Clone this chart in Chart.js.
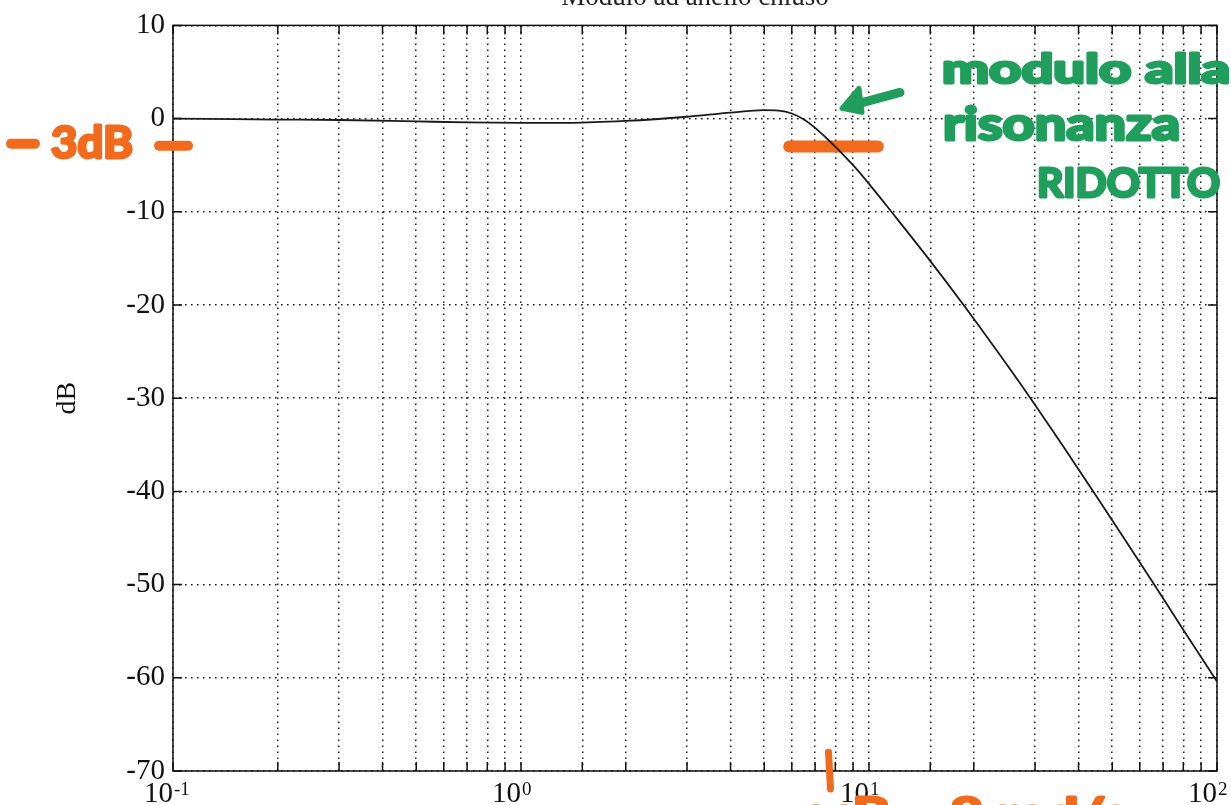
<!DOCTYPE html>
<html>
<head>
<meta charset="utf-8">
<script src="https://cdn.jsdelivr.net/npm/chart.js@4.4.0/dist/chart.umd.min.js"></script>
<style>
html, body { margin: 0; padding: 0; background: #fff; overflow: hidden; }
#wrap { position: relative; width: 1231px; height: 805px; overflow: hidden; background: #fff; }
#wrap canvas { position: absolute; left: 0; top: -20px; }
</style>
</head>
<body>
<div id="wrap"><canvas id="myChart" width="1231" height="825"></canvas></div>
<script>
// frequenze (rad/s) e modulo ad anello chiuso (dB)
const freq = [0.1, 0.2, 0.3, 0.5, 0.7, 1, 1.4, 2, 3, 4, 5, 5.5, 6, 6.5, 7, 7.5, 8, 9, 10, 11.6, 14.8, 18.7, 23.4, 29.1, 35.9, 44.1, 54, 66, 80.5, 100];
const moduloDb = [0, -0.1, -0.15, -0.3, -0.4, -0.45, -0.45, -0.25, 0.2, 0.65, 0.9, 0.85, 0.55, -0.1, -1.0, -2.0, -3.0, -5.0, -7.0, -10, -15, -20, -25, -30, -35, -40, -45, -50, -55, -60.4];

// assi
const xMin = 0.1, xMax = 100;
const yMin = -70, yMax = 10, yStep = 10;
const decadi = [0.1, 1, 10, 100];
const esponenti = ['-1', '0', '1', '2'];

// annotazioni a mano
const livelloBanda = -3;
const freqBanda = [5.9, 10.6];
const freqTaglio = 7.7;

const serif = '"Liberation Serif", "DejaVu Serif", serif';
const arancio = '#f26a1b';
const verde = '#1f9e5c';

function scritta(ctx, testo, x, base, px, larghezza, colore) {
    ctx.save();
    ctx.font = 'bold ' + px + 'px Lato, "Open Sans", sans-serif';
    const w = ctx.measureText(testo).width;
    ctx.translate(x, base);
    ctx.scale(larghezza / w, 1);
    ctx.fillStyle = colore;
    ctx.strokeStyle = colore;
    ctx.lineWidth = 3;
    ctx.lineJoin = 'round';
    ctx.textAlign = 'left';
    ctx.textBaseline = 'alphabetic';
    ctx.strokeText(testo, 0, 0);
    ctx.fillText(testo, 0, 0);
    ctx.restore();
}

function tratto(ctx, x1, y1, x2, y2, w, colore) {
    ctx.save();
    ctx.strokeStyle = colore;
    ctx.lineWidth = w;
    ctx.lineCap = 'round';
    ctx.beginPath();
    ctx.moveTo(x1, y1);
    ctx.lineTo(x2, y2);
    ctx.stroke();
    ctx.restore();
}

const cornice = {
    id: 'cornice',
    beforeDatasetsDraw(chart) {
        const { ctx, scales: { x, y } } = chart;
        const yb = y.getPixelForValue(livelloBanda);
        tratto(ctx, x.getPixelForValue(freqBanda[0]), yb, x.getPixelForValue(freqBanda[1]), yb, 12, arancio);
    },
    afterDraw(chart) {
        const { ctx, chartArea: a, scales: { x, y } } = chart;
        ctx.save();
        ctx.strokeStyle = '#111';
        ctx.lineWidth = 1.5;
        ctx.strokeRect(a.left, a.top, a.right - a.left, a.bottom - a.top);
        ctx.beginPath();
        x.ticks.forEach(t => {
            const px = x.getPixelForValue(t.value);
            ctx.moveTo(px, a.bottom); ctx.lineTo(px, a.bottom - 9);
            ctx.moveTo(px, a.top); ctx.lineTo(px, a.top + 9);
        });
        y.ticks.forEach(t => {
            const py = y.getPixelForValue(t.value);
            ctx.moveTo(a.left, py); ctx.lineTo(a.left + 9, py);
            ctx.moveTo(a.right, py); ctx.lineTo(a.right - 9, py);
        });
        ctx.stroke();

        // etichette 10^n
        ctx.fillStyle = '#111';
        ctx.textBaseline = 'alphabetic';
        decadi.forEach((v, i) => {
            const px = x.getPixelForValue(v);
            ctx.font = '29px ' + serif;
            ctx.textAlign = 'right';
            ctx.fillText('10', px, a.bottom + 31);
            ctx.font = '19px ' + serif;
            ctx.textAlign = 'left';
            ctx.fillText(esponenti[i], px + 1, a.bottom + 24);
        });
        ctx.restore();

        // -3dB a sinistra
        const y3 = y.getPixelForValue(-2.6);
        tratto(ctx, a.left - 162, y3 + 1, a.left - 138, y3 + 1, 10, arancio);
        scritta(ctx, '3dB', a.left - 122, y3 + 15, 44, 82, arancio);
        tratto(ctx, a.left - 14, y3 + 3, a.left + 15, y3 + 3, 10, arancio);

        // segno sulla pulsazione di taglio
        const xt = x.getPixelForValue(freqTaglio);
        tratto(ctx, xt - 1, y.getPixelForValue(-68), xt + 1, a.bottom + 18, 7, arancio);
        scritta(ctx, 'ωB = 8 rad/s', xt - 22, a.bottom + 57, 42, 320, arancio);

        // nota verde
        scritta(ctx, 'modulo alla', a.right - 275, a.top + 58, 40, 288, verde);
        scritta(ctx, 'risonanza', a.right - 274, a.top + 115, 45, 237, verde);
        scritta(ctx, 'RIDOTTO', a.right - 180, a.top + 172, 40, 183, verde);

        // freccia
        const tip = [a.right - 375, a.top + 83];
        tratto(ctx, a.right - 317, a.top + 67, tip[0] + 10, tip[1] - 3, 9, verde);
        ctx.save();
        ctx.fillStyle = verde;
        ctx.strokeStyle = verde;
        ctx.lineWidth = 5;
        ctx.lineJoin = 'round';
        ctx.beginPath();
        ctx.moveTo(tip[0], tip[1]);
        ctx.lineTo(a.right - 358, a.top + 63);
        ctx.lineTo(a.right - 355, a.top + 87);
        ctx.closePath();
        ctx.fill();
        ctx.stroke();
        ctx.restore();
    }
};

const ctx = document.getElementById('myChart').getContext('2d');
const myChart = new Chart(ctx, {
    type: 'line',
    data: {
        datasets: [{
            label: 'Modulo ad anello chiuso',
            data: freq.map((f, i) => ({ x: f, y: moduloDb[i] })),
            borderColor: '#1a1a1a',
            borderWidth: 1.8,
            pointRadius: 0,
            fill: false,
            cubicInterpolationMode: 'monotone'
        }]
    },
    options: {
        responsive: false,
        animation: false,
        layout: { padding: { top: 0, left: 0, right: 14, bottom: 34 } },
        plugins: {
            legend: { display: false },
            tooltip: { enabled: false },
            title: {
                display: true,
                fullSize: false,
                text: 'Modulo ad anello chiuso',
                color: '#222',
                font: { family: serif, size: 27, weight: 'normal' },
                padding: { top: 2, bottom: 11 }
            }
        },
        scales: {
            x: {
                type: 'logarithmic',
                min: xMin,
                max: xMax,
                ticks: { display: false },
                grid: { color: '#222', lineWidth: 1.5, drawTicks: false },
                border: { display: false, dash: [1.6, 4.4] }
            },
            y: {
                min: yMin,
                max: yMax,
                ticks: {
                    stepSize: yStep,
                    color: '#111',
                    padding: 8,
                    font: { family: serif, size: 29 }
                },
                title: {
                    display: true,
                    text: 'dB',
                    color: '#111',
                    font: { family: serif, size: 28 },
                    padding: { top: 51, bottom: 0 }
                },
                grid: { color: '#222', lineWidth: 1.5, drawTicks: false },
                border: { display: false, dash: [1.6, 4.4] },
                afterFit(scale) { scale.width = 173; }
            }
        }
    },
    plugins: [cornice]
});
</script>
</body>
</html>
